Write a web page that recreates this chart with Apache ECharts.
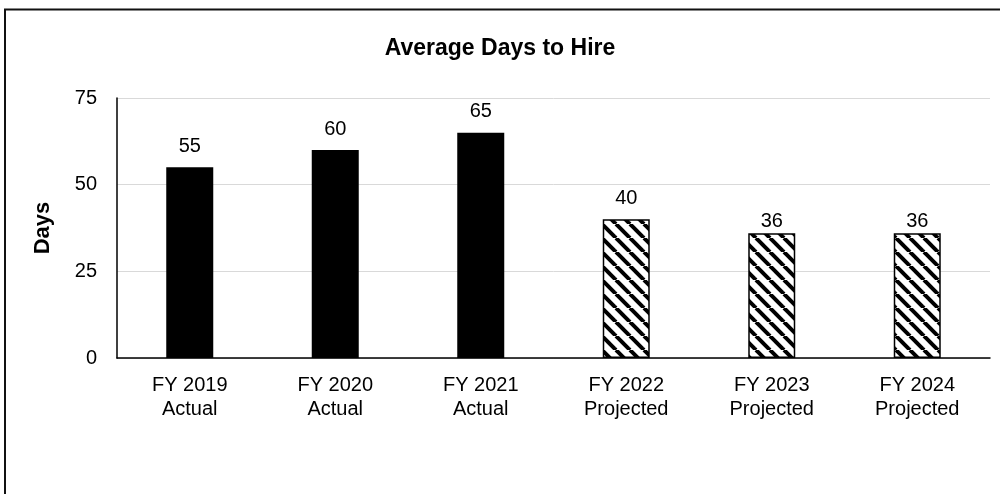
<!DOCTYPE html>
<html>
<head>
<meta charset="utf-8">
<script src="https://cdn.jsdelivr.net/npm/echarts@6/dist/echarts.min.js"></script>
<style>
html,body{margin:0;padding:0;background:#fff;}
#chart{width:1000px;height:494px;}
</style>
</head>
<body>
<div id="chart"></div>
<script>
// ---- data ----
var fiscalYears = ['FY 2019', 'FY 2020', 'FY 2021', 'FY 2022', 'FY 2023', 'FY 2024'];
var phases = ['Actual', 'Actual', 'Actual', 'Projected', 'Projected', 'Projected'];
var avgDays = [55, 60, 65, 40, 36, 36];
var yTicks = [0, 25, 50, 75];
var chartTitle = 'Average Days to Hire';
var yName = 'Days';

// ---- styles ----
var labelGap = [11, 11, 11, 11, 2, 2];

function hatch() {
  var s = 14;
  var c = document.createElement('canvas');
  c.width = s; c.height = s;
  var g = c.getContext('2d');
  g.fillStyle = '#fff';
  g.fillRect(0, 0, s, s);
  g.strokeStyle = '#000';
  g.lineWidth = 4;
  [-s, 0, s].forEach(function (k) {
    g.beginPath();
    g.moveTo(k, 0);
    g.lineTo(k + s, s);
    g.stroke();
  });
  return c;
}
var hatchImg = hatch();

var categories = fiscalYears.map(function (fy, i) { return fy + '\n' + phases[i]; });
var seriesData = avgDays.map(function (v, i) {
  var projected = phases[i] === 'Projected';
  return {
    value: v,
    itemStyle: projected
      ? { color: { image: hatchImg, repeat: 'repeat' }, borderColor: '#000', borderWidth: 1.5 }
      : { color: '#000' },
    label: { distance: labelGap[i] }
  };
});

var chart = echarts.init(document.getElementById('chart'), null, { renderer: 'canvas' });
chart.setOption({
  animation: false,
  backgroundColor: '#fff',
  textStyle: { fontFamily: 'Liberation Sans, Arial, sans-serif' },
  title: {
    text: chartTitle,
    left: 'center',
    top: 32,
    textStyle: { fontSize: 23, fontWeight: 'bold', color: '#000', fontFamily: 'Liberation Sans, Arial, sans-serif' }
  },
  graphic: [{
    type: 'rect',
    shape: { x: 5, y: 9.5, width: 1200, height: 1000 },
    style: { fill: null, stroke: '#111', lineWidth: 2 },
    silent: true
  }],
  grid: { left: 117, right: 10, top: 98, bottom: 136, containLabel: false },
  xAxis: {
    type: 'category',
    data: categories,
    axisLine: { lineStyle: { color: '#000', width: 1.5 } },
    axisTick: { show: false },
    axisLabel: { color: '#000', fontSize: 20, lineHeight: 24, margin: 15, interval: 0 }
  },
  yAxis: {
    type: 'value',
    min: yTicks[0],
    max: yTicks[yTicks.length - 1],
    interval: yTicks[1] - yTicks[0],
    name: yName,
    nameLocation: 'middle',
    nameGap: 63,
    nameRotate: 90,
    nameTextStyle: { fontSize: 22, fontWeight: 'bold', color: '#000' },
    axisLine: { show: true, lineStyle: { color: '#000', width: 1.5 } },
    axisTick: { show: false },
    axisLabel: { color: '#000', fontSize: 20, margin: 20 },
    splitLine: { lineStyle: { color: '#d9d9d9', width: 1 } }
  },
  series: [{
    type: 'bar',
    data: seriesData,
    barWidth: 47,
    label: { show: true, position: 'top', color: '#000', fontSize: 20 }
  }]
});
</script>
</body>
</html>
